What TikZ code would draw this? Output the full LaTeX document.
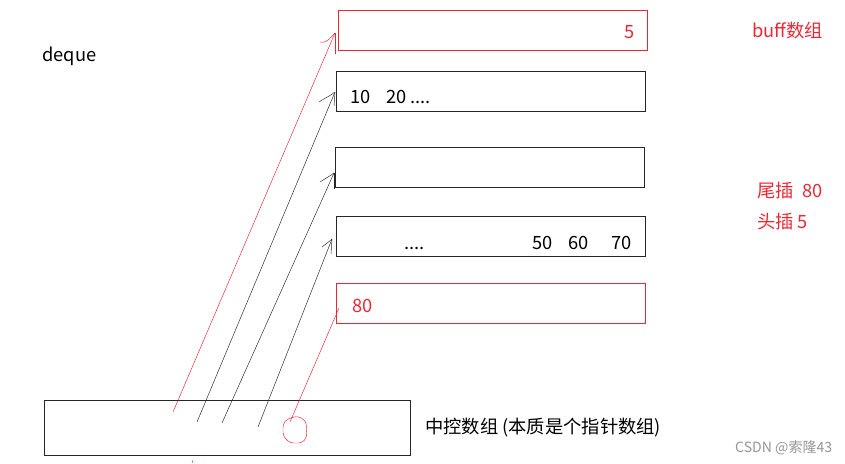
\documentclass[tikz,border=0pt]{standalone}
\usepackage{fontspec}
\setmainfont{Noto Sans CJK SC}
\definecolor{penred}{RGB}{232,40,52}
\definecolor{markgray}{RGB}{150,150,150}
\begin{document}
\begin{tikzpicture}[x=0.03cm,y=-0.03cm]
%styles
\tikzstyle{buffbox}=[rectangle, draw=black!85, line width=0.8pt, anchor=north west, inner sep=0pt, minimum width=9.27cm, minimum height=1.19cm]
\tikzstyle{redbox}=[buffbox, draw=penred]
\tikzstyle{textw}=[anchor=base west, inner sep=0pt, text=black, font=\fontsize{15.6}{18}\selectfont]
\tikzstyle{textr}=[textw, text=penred]
\tikzstyle{pen}=[thin, black!85]
\tikzstyle{redpen}=[thin, penred]
\useasboundingbox (0,0) rectangle (845,463);
%boxes
\node[redbox] (b1) at (338,10) {};
\node[buffbox] (b2) at (336,71) {};
\node[buffbox] (b3) at (335,147) {};
\node[buffbox] (b4) at (336,216) {};
\node[redbox] (b5) at (336,283) {};
\node[buffbox, minimum width=10.98cm, minimum height=1.65cm] (map) at (44,400) {};
%text
\node[textw] (tdeque) at (42,61) {deque};
\node[textr] (t5) at (624,38) {5};
\node[textw] (t10) at (350,103) {10};
\node[textw] (t20) at (386,103) {20 ....};
\node[textw] (tdots) at (404,249) {....};
\node[textw] (t50) at (532,249) {50};
\node[textw] (t60) at (568,249) {60};
\node[textw] (t70) at (611,249) {70};
\node[textr] (t80) at (352,312) {80};
\node[textr] (tbuff) at (752,37) {buff数组};
\node[textr] (ttail) at (757,197) {尾插\hspace{0.25cm}80};
\node[textr] (thead) at (757,228) {头插 5};
\node[textw] (tmap) at (425,433) {中控数组 (本质是个指针数组)};
\node[textw, text=markgray, font=\fontsize{12}{14}\selectfont] (tcsdn) at (735,452) {CSDN @索隆43};
%pointers
\coordinate (s1) at (173,412);
\coordinate (s2) at (197,422);
\coordinate (s3) at (222,423);
\coordinate (s4) at (258,427);
\coordinate (s5) at (290,422);
\coordinate (e1) at (335,33);
\coordinate (e2) at (335,92);
\coordinate (e3) at (334,173);
\coordinate (e4) at (332,239);
\coordinate (e5) at (339,308);
\draw[redpen] (s1) -- (e1);
\draw[pen] (s2) -- (e2);
\draw[pen] (s3) -- (e3);
\draw[pen] (s4) -- (e4);
\draw[redpen] (s5) -- (e5);
%heads
\draw[redpen] (320,42) .. controls (326,44) and (330,38) .. (e1);
\draw[redpen] (e1) -- (335,54);
\draw[pen] (319,102) .. controls (325,98) and (330,96) .. (e2);
\draw[pen] (e2) -- (334,106);
\draw[pen] (320,182) .. controls (326,178) and (330,176) .. (e3);
\draw[pen] (e3) -- (334,189);
\draw[pen] (322,247) .. controls (327,243) and (330,241) .. (e4);
\draw[pen] (e4) -- (331,254);
\draw[redpen] (193,460) -- (192,463);
%circle
\draw[redpen, rounded corners=3pt] (287,419) -- (298,416) -- (306,421) -- (307,437) -- (302,443) -- (290,443) -- (283,436) -- (283,424) -- cycle;
\end{tikzpicture}
\end{document}
